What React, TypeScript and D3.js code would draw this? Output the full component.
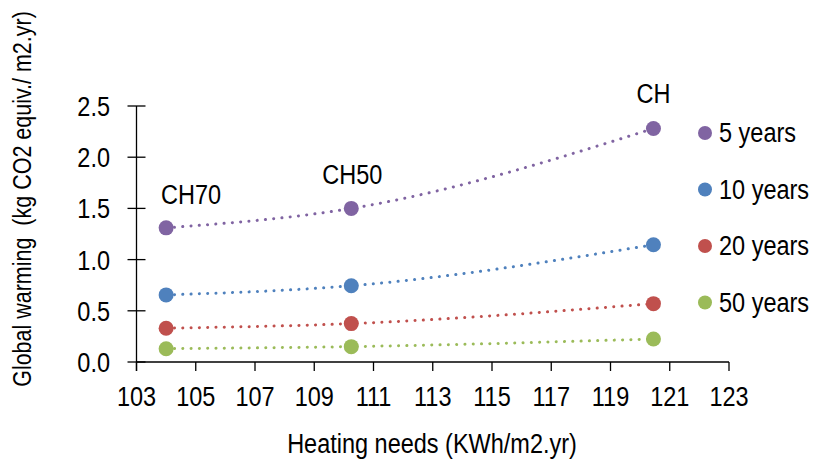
import React from "react";
import * as d3 from "d3";

const heatingNeeds = [104.0, 110.25, 120.45];
const pointLabels = ["CH70", "CH50", "CH"];
const seriesNames = ["5 years", "10 years", "20 years", "50 years"];
const seriesColors = ["#8064A2", "#4F81BD", "#C0504D", "#9BBB59"];
const years5 = [1.31, 1.50, 2.28];
const years10 = [0.655, 0.745, 1.145];
const years20 = [0.33, 0.375, 0.57];
const years50 = [0.13, 0.15, 0.225];
const seriesValues = [years5, years10, years20, years50];
const xTicks = [103, 105, 107, 109, 111, 113, 115, 117, 119, 121, 123];
const yTicks = [0, 0.5, 1.0, 1.5, 2.0, 2.5];

const FONT = "'Liberation Sans', Arial, sans-serif";
const NARROW = 0.87;

function NText(props: {
  x: number;
  y: number;
  size: number;
  anchor?: string;
  rotate?: number;
  sx?: number;
  children: React.ReactNode;
}) {
  const { x, y, size, anchor = "start", rotate = 0, sx = NARROW, children } = props;
  return (
    <text
      transform={`translate(${x},${y}) rotate(${rotate}) scale(${sx},1)`}
      textAnchor={anchor}
      fontSize={size}
      fontFamily={FONT}
      fill="#000"
      style={{ whiteSpace: "pre" }}
    >
      {children}
    </text>
  );
}

export default function App() {
  const W = 816, H = 461;
  const x = d3.scaleLinear().domain([103, 123]).range([136.5, 729]);
  const y = d3.scaleLinear().domain([0, 2.5]).range([362, 106]);
  const line = d3
    .line<number>()
    .x((_, i) => x(heatingNeeds[i]))
    .y((d) => y(d))
    .curve(d3.curveMonotoneX);

  const labelOffsets = [
    { dx: 25, dy: -24 },
    { dx: 1, dy: -24 },
    { dx: 0, dy: -25.5 },
  ];

  return (
    <svg width={W} height={H} style={{ position: "absolute", left: 0, top: 0, background: "#fff" }}>
      <rect x={0} y={0} width={W} height={H} fill="#fff" />
      {/* axes */}
      <line x1={x(103)} x2={x(123)} y1={y(0)} y2={y(0)} stroke="#000" strokeWidth={1.3} />
      <line x1={x(103)} x2={x(103)} y1={y(2.5)} y2={y(0) + 9} stroke="#000" strokeWidth={1.3} />
      {xTicks.map((t) => (
        <g key={"xt" + t}>
          <line x1={x(t)} x2={x(t)} y1={y(0)} y2={y(0) + 9} stroke="#000" strokeWidth={1.3} />
          <NText x={x(t)} y={406} size={27} anchor="middle">
            {String(t)}
          </NText>
        </g>
      ))}
      {yTicks.map((t) => (
        <g key={"yt" + t}>
          <line x1={x(103) - 9} x2={x(103) + 9} y1={y(t)} y2={y(t)} stroke="#000" strokeWidth={1.3} />
          <NText x={110} y={y(t) + 10} size={27} anchor="end">
            {t.toFixed(1)}
          </NText>
        </g>
      ))}
      {/* titles */}
      <NText x={432} y={453} size={27} anchor="middle">
        Heating needs (KWh/m2.yr)
      </NText>
      <NText x={31} y={199} size={25} anchor="middle" rotate={-90} sx={0.86}>
        {"Global warming  (kg CO2 equiv./ m2.yr)"}
      </NText>
      {/* series */}
      {seriesValues.map((vals, si) => (
        <g key={"s" + si}>
          <path
            d={line(vals) || ""}
            fill="none"
            stroke={seriesColors[si]}
            strokeWidth={3}
            strokeLinecap="round"
            strokeDasharray="0.1 8.2"
          />
          {vals.map((v, i) => (
            <circle key={i} cx={x(heatingNeeds[i])} cy={y(v)} r={7.5} fill={seriesColors[si]} />
          ))}
        </g>
      ))}
      {/* point labels */}
      {pointLabels.map((lab, i) => (
        <NText
          key={lab}
          x={x(heatingNeeds[i]) + labelOffsets[i].dx}
          y={y(years5[i]) + labelOffsets[i].dy}
          size={27}
          anchor="middle"
        >
          {lab}
        </NText>
      ))}
      {/* legend */}
      {seriesNames.map((name, i) => (
        <g key={name} transform={`translate(705,${133 + i * 56.5})`}>
          <circle cx={0} cy={0} r={7} fill={seriesColors[i]} />
          <NText x={14} y={9} size={27}>
            {name}
          </NText>
        </g>
      ))}
    </svg>
  );
}
